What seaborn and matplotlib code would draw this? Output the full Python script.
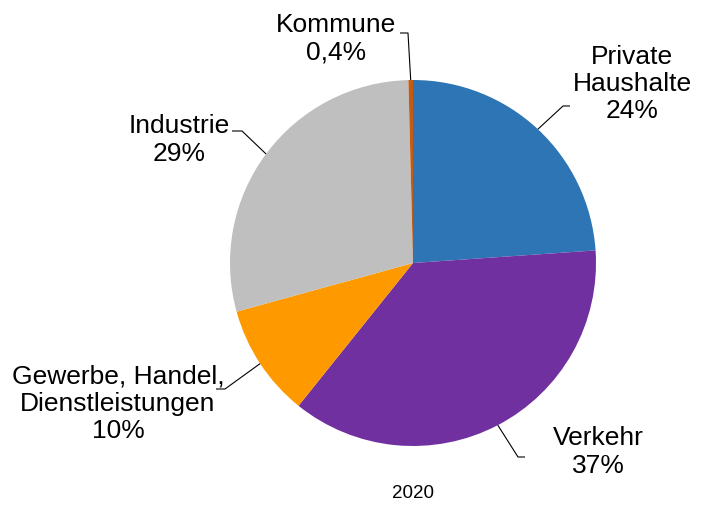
import numpy as np
import matplotlib
matplotlib.use("Agg")
import matplotlib.pyplot as plt
import seaborn as sns

# --- Daten ---
sektoren = ["Private\nHaushalte", "Verkehr", "Gewerbe, Handel,\nDienstleistungen", "Industrie", "Kommune"]
anteile = [24, 37, 10, 29, 0.4]
prozent_text = ["24%", "37%", "10%", "29%", "0,4%"]
farben = ["#2E75B6", "#7030A0", "#FF9900", "#BFBFBF", "#C55A11"]
jahr = "2020"

sns.set_theme(style="white")
plt.rcParams["font.family"] = ["Liberation Sans", "DejaVu Sans"]

W, H = 710, 507
fig = plt.figure(figsize=(W / 100, H / 100), dpi=100)
ax = fig.add_axes([0, 0, 1, 1])

# Mittelpunkt und Radius in Pixeln (y nach oben)
cx, cy, r = 413, H - 263, 183

wedges, _ = ax.pie(anteile, colors=farben, startangle=90, counterclock=False,
                   center=(cx, cy), radius=r, wedgeprops=dict(linewidth=0))

ax.set_xlim(0, W)
ax.set_ylim(0, H)
ax.set_aspect("equal")
ax.axis("off")

# Beschriftungen: Knickpunkt, Linienende, Textmitte (Pixel, y von oben)
layout = [
    ((563, 106), (570, 106), (632, 84)),
    ((518, 457), (525, 457), (598, 452)),
    ((225, 389), (216, 389), (118, 404)),
    ((242, 131), (232, 131), (179, 140)),
    ((408, 33), (400, 33), (336, 39)),
]

for w, name, pct, (knick, ende, pos) in zip(wedges, sektoren, prozent_text, layout):
    mitte = np.deg2rad((w.theta1 + w.theta2) / 2)
    x0 = cx + r * np.cos(mitte)
    y0 = cy + r * np.sin(mitte)
    ax.plot([x0, knick[0], ende[0]], [y0, H - knick[1], H - ende[1]],
            color="black", lw=0.8, solid_capstyle="butt")
    ax.text(pos[0], H - pos[1], f"{name}\n{pct}", ha="center", va="center",
            fontsize=19, color="black", linespacing=1.18)

ax.text(cx, H - 494, jahr, ha="center", va="center", fontsize=13.5, color="black")

fig.savefig("out.png", dpi=100)
